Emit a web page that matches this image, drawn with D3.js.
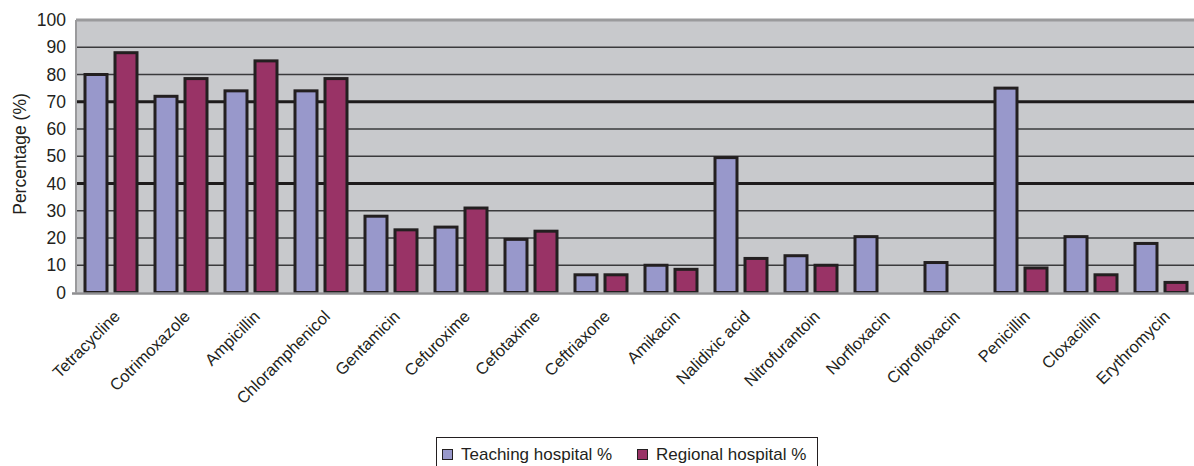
<!DOCTYPE html>
<html>
  <head>
    <script src="https://cdn.jsdelivr.net/npm/d3@7"></script>
    <style>
      body { margin: 0; background: #fff; }
      svg { display: block; font-family: "Liberation Sans", Arial, sans-serif; }
      .axis text { fill: #231f20; }
    </style>
  </head>
  <body>
    <svg id="chart" width="1194" height="466"></svg>
    <script>
      // data
      var drugs = ['Tetracycline', 'Cotrimoxazole', 'Ampicillin', 'Chloramphenicol',
        'Gentamicin', 'Cefuroxime', 'Cefotaxime', 'Ceftriaxone', 'Amikacin',
        'Nalidixic acid', 'Nitrofurantoin', 'Norfloxacin', 'Ciprofloxacin',
        'Penicillin', 'Cloxacillin', 'Erythromycin'];
      var teaching = [80, 72, 74, 74, 28, 24, 19.5, 6.5, 10, 49.5, 13.5, 20.5, 11, 75, 20.5, 18];
      var regional = [88, 78.5, 85, 78.5, 23, 31, 22.5, 6.5, 8.5, 12.5, 10, 0, 0, 9, 6.5, 3.7];
      var seriesNames = ['Teaching hospital %', 'Regional hospital %'];
      var yTicks = [0, 10, 20, 30, 40, 50, 60, 70, 80, 90, 100];

      var colors = ['#9898cb', '#993366'];
      var svg = d3.select('#chart');
      var plotLeft = 76, plotRight = 1196, plotTop = 20, plotBottom = 292.5;

      var x0 = d3.scaleBand().domain(drugs).range([plotLeft, plotRight]).padding(0);
      var x1 = d3.scaleBand().domain([0, 1]).range([0, x0.bandwidth()])
        .paddingInner(0.267).paddingOuter(0.3);
      var y = d3.scaleLinear().domain([0, 100]).range([plotBottom, plotTop]);

      // plot background
      svg.append('rect')
        .attr('x', plotLeft).attr('y', plotTop)
        .attr('width', plotRight - plotLeft).attr('height', plotBottom - plotTop)
        .attr('fill', '#c8c9cc');

      // gridlines, 40 and 70 drawn heavier
      svg.append('g')
        .selectAll('line')
        .data(yTicks.filter(function (d) { return d > 0 && d < 100; }))
        .enter()
        .append('line')
        .attr('x1', plotLeft).attr('x2', plotRight)
        .attr('y1', function (d) { return y(d); })
        .attr('y2', function (d) { return y(d); })
        .attr('stroke', function (d) { return d === 40 || d === 70 ? '#1e1b1c' : '#3a3a3c'; })
        .attr('stroke-width', function (d) { return d === 40 || d === 70 ? 3.2 : 1.3; });

      // plot frame (top / left gray)
      svg.append('line').attr('x1', plotLeft).attr('x2', plotRight).attr('y1', plotTop).attr('y2', plotTop)
        .attr('stroke', '#9a9a9c').attr('stroke-width', 3);
      svg.append('line').attr('x1', plotLeft).attr('x2', plotLeft).attr('y1', plotTop).attr('y2', plotBottom)
        .attr('stroke', '#9a9a9c').attr('stroke-width', 2);

      // bars
      var groups = svg.append('g')
        .selectAll('g')
        .data(drugs)
        .enter()
        .append('g')
        .attr('transform', function (d) { return 'translate(' + x0(d) + ',0)'; });
      groups.selectAll('rect')
        .data(function (d, i) {
          return [teaching[i], regional[i]]
            .map(function (v, s) { return { s: s, v: v }; })
            .filter(function (e) { return e.v > 0; });
        })
        .enter()
        .append('rect')
        .attr('x', function (d) { return x1(d.s); })
        .attr('width', x1.bandwidth())
        .attr('y', function (d) { return y(d.v); })
        .attr('height', function (d) { return y(0) - y(d.v); })
        .attr('fill', function (d) { return colors[d.s]; })
        .attr('stroke', '#231f20')
        .attr('stroke-width', 3);

      // bottom axis line
      svg.append('line').attr('x1', plotLeft - 4).attr('x2', plotRight)
        .attr('y1', plotBottom + 1).attr('y2', plotBottom + 1)
        .attr('stroke', '#8e8e90').attr('stroke-width', 2.5);

      // y axis labels
      var yAxis = svg.append('g')
        .attr('class', 'axis')
        .attr('transform', 'translate(' + plotLeft + ',0)')
        .call(d3.axisLeft(y).tickValues(yTicks).tickSize(0).tickPadding(10));
      yAxis.select('.domain').remove();
      yAxis.selectAll('text').style('font-size', '17.5px').style('font-family', '"Liberation Sans", Arial, sans-serif');

      svg.append('text')
        .attr('transform', 'translate(26,154) rotate(-90)')
        .attr('text-anchor', 'middle')
        .style('font-size', '17.5px')
        .attr('fill', '#231f20')
        .text('Percentage (%)');

      // x axis labels, rotated
      var xAxis = svg.append('g')
        .attr('class', 'axis')
        .attr('transform', 'translate(0,' + plotBottom + ')')
        .call(d3.axisBottom(x0).tickSize(0).tickPadding(0));
      xAxis.select('.domain').remove();
      xAxis.selectAll('text')
        .style('font-size', '16.5px')
        .style('font-family', '"Liberation Sans", Arial, sans-serif')
        .attr('text-anchor', 'end')
        .attr('dy', null)
        .attr('y', 0)
        .attr('transform', 'translate(10,25) rotate(-45)');

      // legend
      var legend = svg.append('g');
      legend.append('rect')
        .attr('x', 436.5).attr('y', 437.5).attr('width', 381).attr('height', 32)
        .attr('fill', '#fff').attr('stroke', '#231f20').attr('stroke-width', 1);
      var legendX = [442, 637];
      seriesNames.forEach(function (name, i) {
        legend.append('rect')
          .attr('x', legendX[i] + 0.5).attr('y', 449.5).attr('width', 10).attr('height', 10)
          .attr('fill', colors[i]).attr('stroke', '#231f20').attr('stroke-width', 1);
        legend.append('text')
          .attr('x', legendX[i] + 19).attr('y', 460)
          .style('font-size', '17px')
          .attr('fill', '#231f20')
          .text(name);
      });
    </script>
  </body>
</html>
